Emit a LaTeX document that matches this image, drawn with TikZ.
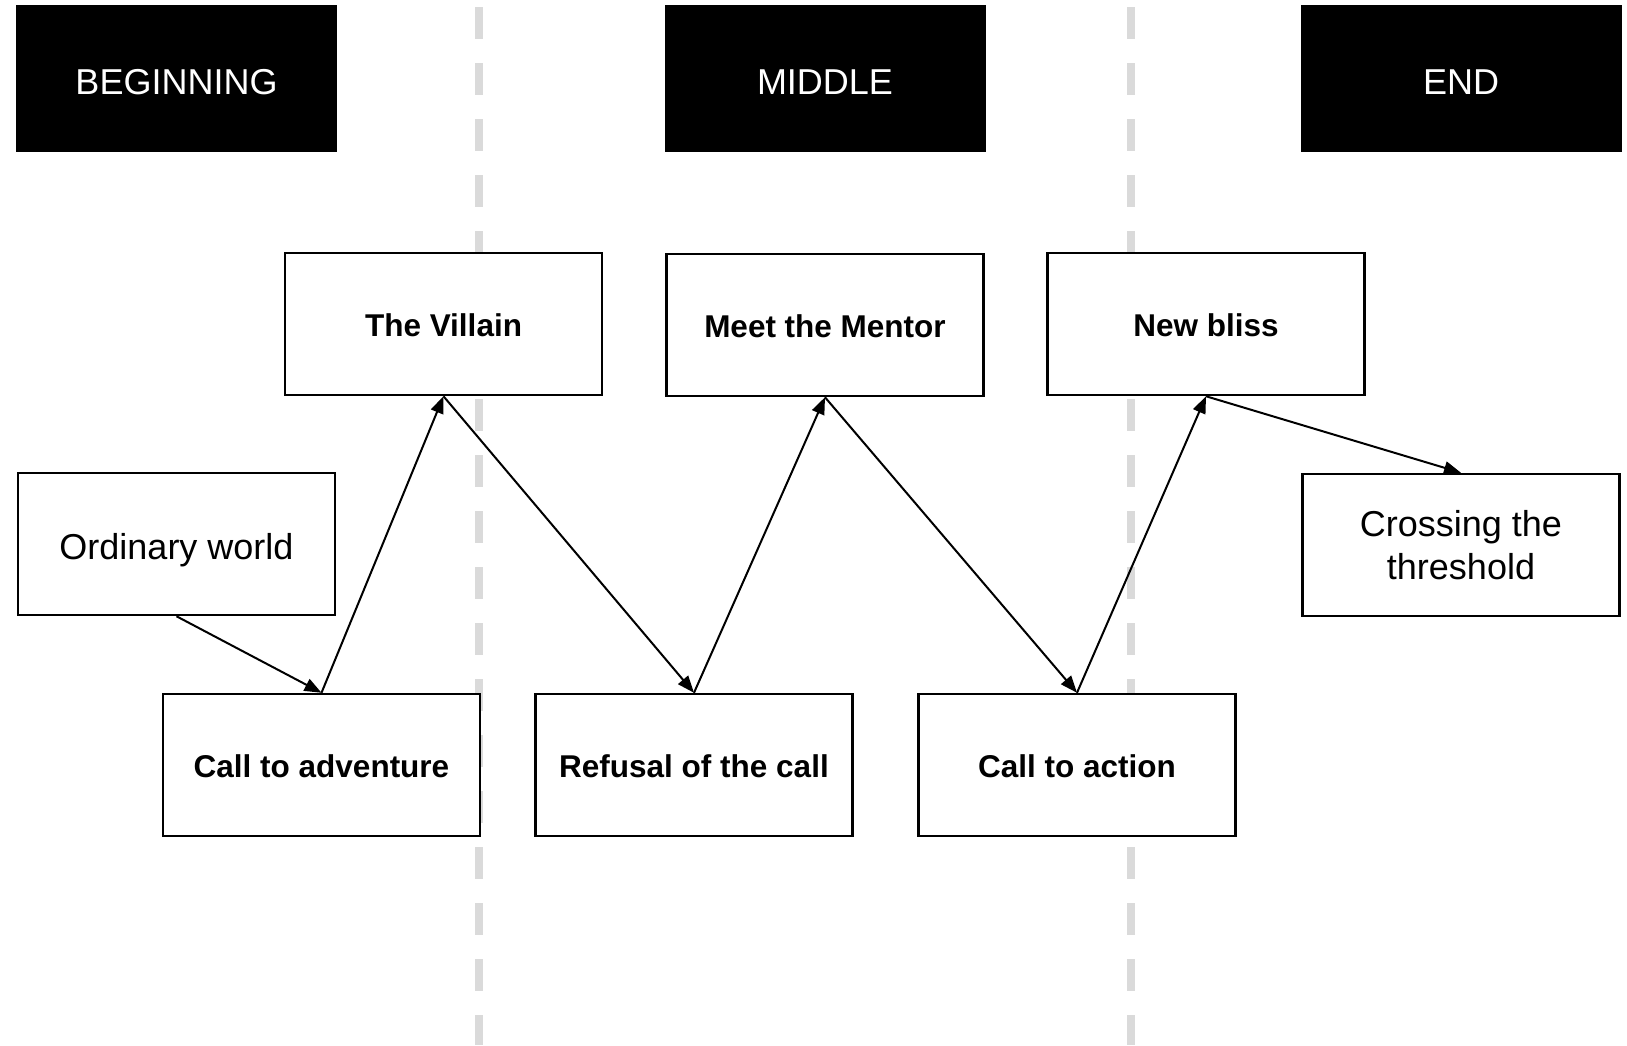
\documentclass[tikz,border=0pt]{standalone}
\usepackage{fontspec}
\setmainfont{Liberation Sans}
\usetikzlibrary{arrows.meta}
\definecolor{divider}{RGB}{218,218,218}
\tikzset{
  act/.style={fill=black, text=white, minimum width=321pt, minimum height=147pt,
    inner sep=0pt, text height=32pt, text depth=1pt,
    font=\fontsize{36}{41.5}\selectfont},
  stage/.style={draw=black, fill=white, line width=2.5pt, minimum width=317pt,
    minimum height=142pt, inner sep=0pt, align=center,
    font=\fontsize{36}{43.5}\selectfont},
  plainstage/.style={stage, text height=32pt, text depth=1pt},
  keystage/.style={stage, text height=28pt, text depth=3.4pt,
    font=\bfseries\fontsize{31.5}{36}\selectfont},
  link/.style={-{Triangle[length=17pt,width=13pt]}, line width=2pt},
  divline/.style={draw=divider, line width=8pt, dash pattern=on 32pt off 24pt}
}
\begin{document}
\begin{tikzpicture}[x=1pt, y=-1pt]
  \useasboundingbox (0,0) rectangle (1627,1045);

  % act dividers
  \coordinate (d1top) at (479,7);
  \coordinate (d1bot) at (479,1045);
  \coordinate (d2top) at (1131,7);
  \coordinate (d2bot) at (1131,1045);
  \draw[divline] (d1top) -- (d1bot);
  \draw[divline] (d2top) -- (d2bot);

  % act headers
  \node[act] (beginning) at (176.5,78.5) {BEGINNING};
  \node[act] (middle) at (825,78.5) {MIDDLE};
  \node[act] (end) at (1461,78.5) {END};

  % story stages
  \node[plainstage] (ordinary) at (176.5,544) {Ordinary world};
  \node[keystage] (adventure) at (321.5,765) {Call to adventure};
  \node[keystage] (villain) at (443.5,324) {The Villain};
  \node[keystage] (refusal) at (694,765) {Refusal of the call};
  \node[keystage] (mentor) at (825,325) {Meet the Mentor};
  \node[keystage] (action) at (1077,765) {Call to action};
  \node[keystage] (bliss) at (1206,324) {New bliss};
  \node[stage] (threshold) at (1461,545) {Crossing the\\threshold};

  % story path
  \draw[link] (ordinary.south) -- (adventure.north);
  \draw[link] (adventure.north) -- (villain.south);
  \draw[link] (villain.south) -- (refusal.north);
  \draw[link] (refusal.north) -- (mentor.south);
  \draw[link] (mentor.south) -- (action.north);
  \draw[link] (action.north) -- (bliss.south);
  \draw[link] (bliss.south) -- (threshold.north);
\end{tikzpicture}
\end{document}
